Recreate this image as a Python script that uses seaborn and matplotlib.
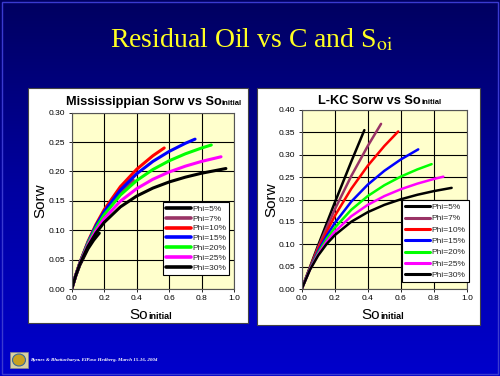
import numpy as np
import pandas as pd
import matplotlib
matplotlib.use("Agg")
import matplotlib.pyplot as plt
import seaborn as sns
from matplotlib.patches import Rectangle

sns.set_theme(style="white")
plt.rcParams['font.family'] = ['Liberation Sans', 'DejaVu Sans']
plt.rcParams['mathtext.fontset'] = 'stix'

labels = ["Phi=5%", "Phi=7%", "Phi=10%", "Phi=15%", "Phi=20%", "Phi=25%", "Phi=30%"]
colors = ["#000000", "#993366", "#FF0000", "#0000FF", "#00FF00", "#FF00FF", "#000000"]

# Mississippian curves (Soi, Sorw)
m_x = [
    [0, 0.025, 0.05, 0.1, 0.135, 0.17],
    [0, 0.025, 0.05, 0.1, 0.15, 0.2, 0.25, 0.3, 0.38],
    [0, 0.025, 0.05, 0.1, 0.15, 0.2, 0.3, 0.4, 0.5, 0.57],
    [0, 0.025, 0.05, 0.1, 0.15, 0.2, 0.3, 0.4, 0.5, 0.6, 0.7, 0.76],
    [0, 0.025, 0.05, 0.1, 0.15, 0.2, 0.3, 0.4, 0.5, 0.6, 0.7, 0.8, 0.86],
    [0, 0.025, 0.05, 0.1, 0.15, 0.2, 0.3, 0.4, 0.5, 0.6, 0.7, 0.8, 0.92],
    [0, 0.025, 0.05, 0.1, 0.15, 0.2, 0.3, 0.4, 0.5, 0.6, 0.7, 0.8, 0.95],
]
m_y = [
    [0, 0.0224, 0.0406, 0.0683, 0.083, 0.095],
    [0, 0.0234, 0.0439, 0.0783, 0.1059, 0.1286, 0.1476, 0.1637, 0.185],
    [0, 0.0236, 0.0446, 0.0806, 0.1101, 0.1349, 0.1741, 0.2036, 0.2267, 0.240],
    [0, 0.0235, 0.0442, 0.0793, 0.1078, 0.1315, 0.1684, 0.1959, 0.2171, 0.2340, 0.2479, 0.255],
    [0, 0.0233, 0.0436, 0.0774, 0.1043, 0.1263, 0.1599, 0.1845, 0.2033, 0.2181, 0.2300, 0.2399, 0.245],
    [0, 0.0231, 0.0428, 0.0749, 0.0997, 0.1197, 0.1495, 0.1707, 0.1867, 0.1991, 0.2090, 0.2171, 0.225],
    [0, 0.0228, 0.0420, 0.0723, 0.0953, 0.1133, 0.1397, 0.1581, 0.1717, 0.1821, 0.1903, 0.1970, 0.205],
]

# L-KC curves (Soi, Sorw)
k_x = [
    [0, 0.1, 0.2, 0.3, 0.379],
    [0, 0.1, 0.2, 0.3, 0.4, 0.48],
    [0, 0.05, 0.1, 0.2, 0.3, 0.4, 0.5, 0.584],
    [0, 0.05, 0.1, 0.15, 0.2, 0.3, 0.4, 0.5, 0.6, 0.705],
    [0, 0.05, 0.1, 0.15, 0.2, 0.3, 0.4, 0.5, 0.6, 0.7, 0.786],
    [0, 0.05, 0.1, 0.15, 0.2, 0.3, 0.4, 0.5, 0.6, 0.7, 0.8, 0.857],
    [0, 0.05, 0.1, 0.15, 0.2, 0.3, 0.4, 0.5, 0.6, 0.7, 0.8, 0.907],
]
k_y = [
    [0, 0.0982, 0.1931, 0.2848, 0.355],
    [0, 0.0941, 0.1777, 0.2525, 0.3198, 0.369],
    [0, 0.0473, 0.0899, 0.1632, 0.2241, 0.2756, 0.3196, 0.352],
    [0, 0.0459, 0.0848, 0.1183, 0.1473, 0.1953, 0.2333, 0.2641, 0.2896, 0.312],
    [0, 0.0448, 0.0812, 0.1114, 0.1368, 0.1771, 0.2078, 0.2319, 0.2513, 0.2673, 0.279],
    [0, 0.0438, 0.0780, 0.1054, 0.1279, 0.1626, 0.1881, 0.2076, 0.2230, 0.2355, 0.2459, 0.251],
    [0, 0.0429, 0.0751, 0.1001, 0.1202, 0.1503, 0.1718, 0.1880, 0.2005, 0.2106, 0.2188, 0.226],
]

W, H = 500, 376
fig = plt.figure(figsize=(5.0, 3.76), dpi=100)

# background gradient
bg = fig.add_axes([0, 0, 1, 1], zorder=-10)
grad = np.linspace(0, 1, 256).reshape(-1, 1)
cmap = matplotlib.colors.LinearSegmentedColormap.from_list("bg", ["#000060", "#0000A0", "#0000CC"])
bg.imshow(grad, aspect="auto", cmap=cmap, extent=[0, 1, 0, 1], origin="upper")
bg.set_xlim(0, 1); bg.set_ylim(0, 1)
bg.axis("off")
bg.add_patch(Rectangle((0.004, 0.004), 0.992, 0.992, fill=False, ec="#3a3ad0", lw=1.0))

def px(x, y):
    return x / W, 1 - y / H

# white panels
for (x0, y0, x1, y1) in [(28, 88, 248, 323), (257, 88, 480, 325)]:
    bg.add_patch(Rectangle((x0 / W, 1 - y1 / H), (x1 - x0) / W, (y1 - y0) / H,
                           fc="white", ec="#444444", lw=0.8))

# slide title
fig.text(0.503, 1 - 40 / H, r"Residual Oil vs C and S$_{\mathrm{oi}}$",
         family="Liberation Serif", color="#FFFF22", fontsize=20,
         ha="center", va="center")

def make_panel(rect_px, xs, ys, ymax, lw, title, title_split, xlab_split, ylab_x,
               legend_anchor, labelspacing):
    l, t, r, b = rect_px
    ax = fig.add_axes([l / W, 1 - b / H, (r - l) / W, (b - t) / H])
    rows = []
    for lab, xv, yv in zip(labels, xs, ys):
        for a, c in zip(xv, yv):
            rows.append((lab, a, c))
    df = pd.DataFrame(rows, columns=["phi", "soi", "sorw"])
    sns.lineplot(data=df, x="soi", y="sorw", hue="phi", hue_order=labels,
                 palette=dict(zip(labels, colors)), sort=False, estimator=None,
                 lw=lw, ax=ax)
    ax.set_facecolor("#FFFFCC")
    ax.set_xlim(0, 1)
    ax.set_ylim(0, ymax)
    ax.set_xticks(np.arange(0, 1.01, 0.2))
    ax.set_yticks(np.arange(0, ymax + 0.001, 0.05))
    ax.xaxis.set_major_formatter(matplotlib.ticker.FormatStrFormatter("%.1f"))
    ax.yaxis.set_major_formatter(matplotlib.ticker.FormatStrFormatter("%.2f"))
    ax.grid(True, color="black", lw=0.8)
    ax.set_axisbelow(True)
    for s in ax.spines.values():
        s.set_color("#555555"); s.set_linewidth(0.8)
    ax.tick_params(labelsize=6, length=2.5, width=0.6, direction="out", pad=2,
                   colors="black", bottom=True, left=True)
    ax.set_xlabel(""); ax.set_ylabel("")
    leg = ax.legend(loc="lower left", bbox_to_anchor=legend_anchor, fontsize=6,
                    frameon=True, fancybox=False, edgecolor="black", framealpha=1,
                    handlelength=3.0, handletextpad=0.2, labelspacing=labelspacing,
                    borderpad=0.35, borderaxespad=0)
    leg.get_frame().set_linewidth(0.8)
    for h in leg.get_lines():
        h.set_linewidth(lw + 0.4)
    # chart title
    sx, sy = title_split
    fig.text(*px(sx, sy), title, ha="right", va="baseline", fontsize=9.2, fontweight="bold", color="black")
    fig.text(*px(sx, sy), "initial", ha="left", va="baseline", fontsize=5.5, fontweight="bold", color="black")
    # x label
    xx, xy = xlab_split
    fig.text(*px(xx, xy), "So", ha="right", va="baseline", fontsize=11, color="black")
    fig.text(*px(xx, xy), "initial", ha="left", va="baseline", fontsize=6.5, fontweight="bold", color="black")
    # y label
    fig.text(*px(ylab_x, (t + b) / 2), "Sorw", rotation=90, ha="center", va="center", fontsize=11, color="black")
    return ax

make_panel((71.7, 112.7, 234, 289), m_x, m_y, 0.30, 2.2,
           "Mississippian Sorw vs So", (221.7, 105), (148, 319), 40, (0.5625, 0.079), 0.25)
make_panel((301.7, 110, 467, 289), k_x, k_y, 0.40, 1.8,
           "L-KC Sorw vs So", (421, 104), (380, 319), 271, (0.607, 0.039), 0.42)

# footer logo & citation
bg.add_patch(Rectangle(px(10, 368), 18 / W, 16 / H, fc="#d8d0a0", ec="#888888", lw=0.5))
bg.add_patch(matplotlib.patches.Ellipse(px(19, 360), 13 / W, 12 / H, fc="#c8a020", ec="#3a6a9a", lw=0.8))
fig.text(*px(30, 360), "Byrnes & Bhattacharya, ElPaso Hedberg, March 15-16, 2004",
         family="Liberation Serif", style="italic", fontweight="bold", fontsize=3.6,
         color="white", ha="left", va="center")

fig.savefig("out.png", dpi=100)
